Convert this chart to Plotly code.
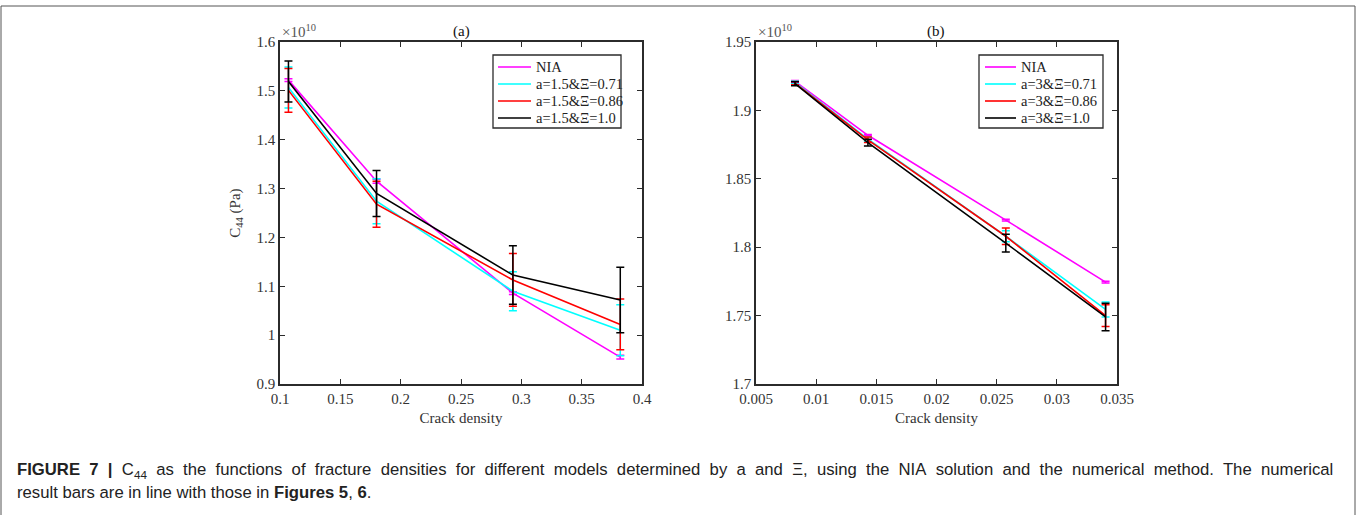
import plotly.graph_objects as go

# Stiffness C44 in units of 1e10 Pa versus crack density.
# Panel (a): aspect ratio a = 1.5
crack_a = [0.107, 0.180, 0.293, 0.382]
nia_a = [1.522, 1.315, 1.086, 0.955]
c071_a = [1.507, 1.274, 1.090, 1.010]
c086_a = [1.501, 1.268, 1.113, 1.022]
c100_a = [1.519, 1.290, 1.123, 1.072]
nia_a_err = [0.003, 0.004, 0.003, 0.004]
c071_a_err = [0.042, 0.046, 0.040, 0.052]
c086_a_err = [0.045, 0.047, 0.054, 0.052]
c100_a_err = [0.042, 0.047, 0.060, 0.067]

# Panel (b): aspect ratio a = 3
crack_b = [0.00824, 0.01430, 0.02576, 0.03405]
nia_b = [1.9212, 1.8818, 1.8198, 1.7745]
c071_b = [1.9205, 1.8790, 1.8080, 1.7545]
c086_b = [1.9200, 1.8785, 1.8080, 1.7500]
c100_b = [1.9195, 1.8765, 1.8030, 1.7490]
nia_b_err = [0.0006, 0.0006, 0.0006, 0.0006]
c071_b_err = [0.0010, 0.0015, 0.0040, 0.0055]
c086_b_err = [0.0012, 0.0020, 0.0060, 0.0080]
c100_b_err = [0.0014, 0.0025, 0.0065, 0.0100]

names_a = ["NIA", "a=1.5&Ξ=0.71", "a=1.5&Ξ=0.86", "a=1.5&Ξ=1.0"]
names_b = ["NIA", "a=3&Ξ=0.71", "a=3&Ξ=0.86", "a=3&Ξ=1.0"]
colors = ["#ff00ff", "#00ffff", "#ff0000", "#000000"]

xticks_a = [0.1, 0.15, 0.2, 0.25, 0.3, 0.35, 0.4]
yticks_a = [0.9, 1.0, 1.1, 1.2, 1.3, 1.4, 1.5, 1.6]
xticks_b = [0.005, 0.01, 0.015, 0.02, 0.025, 0.03, 0.035]
yticks_b = [1.7, 1.75, 1.8, 1.85, 1.9, 1.95]

caption_line1 = ("<b>FIGURE 7 |</b> C<sub>44</sub> as the functions of fracture densities for different models "
                 "determined by a and Ξ, using the NIA solution and the numerical method. The numerical")
caption_line2 = "result bars are in line with those in <b>Figures 5</b>, <b>6</b>."

W, H = 1357, 515
SERIF = "Liberation Serif"
AX = "#2b2b2b"
TXT = "#333333"


def px_x(p):
    return p / W


def px_y(p):
    return 1 - p / H


fig = go.Figure()

series_a = [(nia_a, nia_a_err), (c071_a, c071_a_err), (c086_a, c086_a_err), (c100_a, c100_a_err)]
series_b = [(nia_b, nia_b_err), (c071_b, c071_b_err), (c086_b, c086_b_err), (c100_b, c100_b_err)]

for (ys, es), name, col in zip(series_a, names_a, colors):
    fig.add_trace(go.Scatter(
        x=crack_a, y=ys, name=name, mode="lines", showlegend=False,
        line=dict(color=col, width=1.6),
        error_y=dict(type="data", array=es, visible=True, color=col, thickness=1.5, width=4),
        xaxis="x", yaxis="y",
    ))

for (ys, es), name, col in zip(series_b, names_b, colors):
    fig.add_trace(go.Scatter(
        x=crack_b, y=ys, name=name, mode="lines", showlegend=False,
        line=dict(color=col, width=1.6),
        error_y=dict(type="data", array=es, visible=True, color=col, thickness=1.5, width=4),
        xaxis="x2", yaxis="y2",
    ))

axis_common = dict(
    showline=True, linecolor=AX, linewidth=1.5, mirror="allticks",
    ticks="inside", ticklen=5, tickwidth=1, tickcolor=AX,
    showgrid=False, zeroline=False, automargin=False,
    tickfont=dict(family=SERIF, size=15, color=TXT),
)
title_font = dict(family=SERIF, size=15, color=TXT)

ydom = [px_y(384), px_y(42)]

fig.update_layout(
    width=W, height=H,
    margin=dict(l=0, r=0, t=0, b=0, autoexpand=False),
    paper_bgcolor="white", plot_bgcolor="white",
    showlegend=False,
    xaxis=dict(domain=[px_x(280), px_x(642)], range=[0.1, 0.4], tickvals=xticks_a,
               title=dict(text="Crack density", font=title_font, standoff=7),
               anchor="y", **axis_common),
    yaxis=dict(domain=ydom, range=[0.9, 1.6], tickvals=yticks_a,
               title=dict(text="C<sub>44</sub> (Pa)", font=title_font, standoff=12),
               anchor="x", **axis_common),
    xaxis2=dict(domain=[px_x(756), px_x(1117)], range=[0.005, 0.035], tickvals=xticks_b,
                title=dict(text="Crack density", font=title_font, standoff=7),
                anchor="y2", **axis_common),
    yaxis2=dict(domain=ydom, range=[1.7, 1.95], tickvals=yticks_b, anchor="x2", **axis_common),
)

# Legend boxes drawn as paper-space shapes with line samples and labels
legend_boxes = [
    # (box left, box right, sample start, sample end, text start, labels)
    (493, 621, 498, 531, 534, names_a),
    (979, 1103, 985, 1016, 1019, names_b),
]
legend_top, legend_bottom = 55, 128
entry_rows = [67, 84, 101, 118]
for bx0, bx1, lx0, lx1, tx, labels in legend_boxes:
    fig.add_shape(type="rect", xref="paper", yref="paper",
                  x0=px_x(bx0), x1=px_x(bx1), y0=px_y(legend_bottom), y1=px_y(legend_top),
                  line=dict(color=AX, width=1.3), fillcolor="white", layer="above")
    for row, label, col in zip(entry_rows, labels, colors):
        fig.add_shape(type="line", xref="paper", yref="paper",
                      x0=px_x(lx0), x1=px_x(lx1), y0=px_y(row), y1=px_y(row),
                      line=dict(color=col, width=1.6), layer="above")
        fig.add_annotation(xref="paper", yref="paper", x=px_x(tx), y=px_y(row),
                           xanchor="left", yanchor="middle", showarrow=False, text=label,
                           font=dict(family=SERIF, size=14.5, color="#222222"))

# Exponent labels and panel titles above each axis box
for xl, label, xc in [(280, "(a)", 461), (756, "(b)", 936)]:
    fig.add_annotation(xref="paper", yref="paper", x=px_x(xl), y=px_y(42), xanchor="left", yanchor="bottom",
                       text="×10<sup>10</sup>", showarrow=False,
                       font=dict(family=SERIF, size=15, color="#555555"))
    fig.add_annotation(xref="paper", yref="paper", x=px_x(xc), y=px_y(42), xanchor="center", yanchor="bottom",
                       text=label, showarrow=False,
                       font=dict(family=SERIF, size=15, color="#111111"))

# Caption; the first line is justified by widening each word gap with a no-break space
cap_font = dict(family="Liberation Sans", size=16.7, color="#222222")
fig.add_annotation(xref="paper", yref="paper", x=px_x(15), y=px_y(470), xanchor="left", yanchor="middle",
                   showarrow=False, font=cap_font, text=caption_line1.replace(" ", "\u00a0 "))
fig.add_annotation(xref="paper", yref="paper", x=px_x(15), y=px_y(492), xanchor="left", yanchor="middle",
                   showarrow=False, font=cap_font, text=caption_line2)

# Frame around the figure panel
fig.add_shape(type="rect", xref="paper", yref="paper",
              x0=px_x(1), x1=px_x(1355), y0=-0.1, y1=px_y(6),
              line=dict(color="#555555", width=1), fillcolor="rgba(0,0,0,0)", layer="below")

fig.write_html("out.html")
